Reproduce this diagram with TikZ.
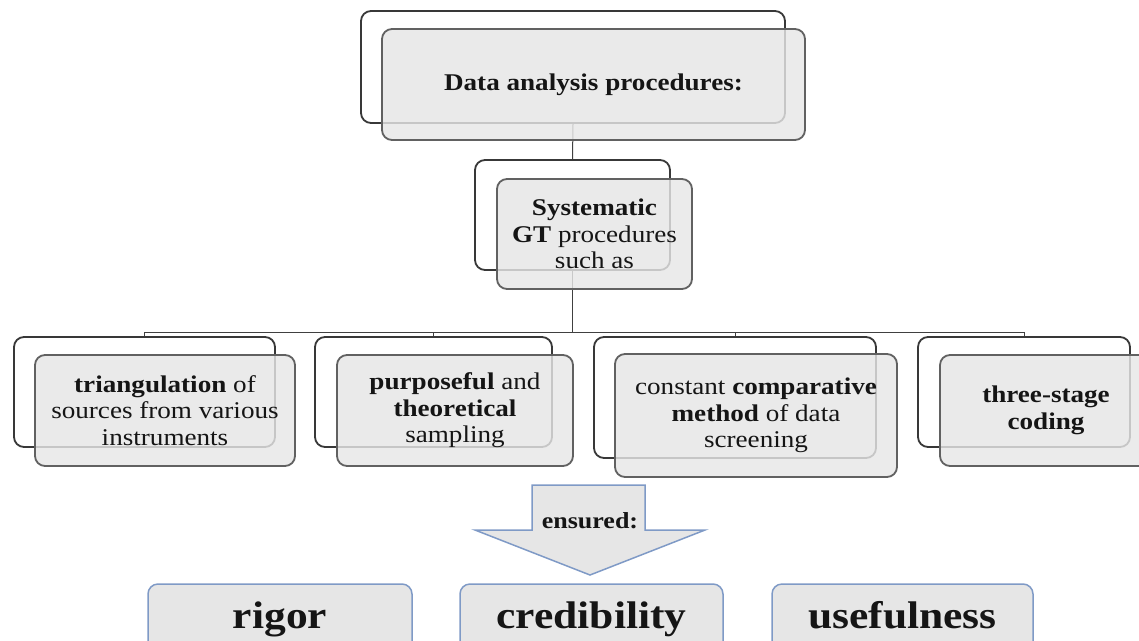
\documentclass[tikz,border=0pt]{standalone}
\usepackage{fontspec}
\setmainfont{Liberation Serif}[FakeStretch=1.13]
\definecolor{boxgray}{HTML}{E6E6E6}
\definecolor{textblack}{HTML}{151515}
\definecolor{bluegray}{HTML}{7F9AC6}
\begin{document}
\begin{tikzpicture}[x=1pt,y=-1pt,
  backbox/.style={draw=black!78, line width=1.8pt, rounded corners=10pt, fill=white, inner sep=0pt},
  frontbox/.style={draw=black!62, line width=1.8pt, rounded corners=10pt, fill=boxgray, fill opacity=0.82, text opacity=1, inner sep=0pt, align=center, text=textblack, font=\fontsize{24}{26.5}\selectfont},
  link/.style={draw=black!75, line width=1pt},
  botbox/.style={draw=bluegray, line width=1.5pt, rounded corners=10pt, fill=boxgray, inner sep=0pt, minimum height=70pt, text height=30pt, text depth=12pt, text=textblack, font=\fontsize{38.5}{40}\selectfont\bfseries},
  arrowshape/.style={draw=bluegray, line width=1.5pt, fill=boxgray, line join=miter}
]
\useasboundingbox (0,0) rectangle (1139,640);
% back boxes
\node[backbox, minimum width=424pt, minimum height=112pt] (b0) at (573,67) {};
\node[backbox, minimum width=195pt, minimum height=110pt] (b1) at (572.5,215) {};
\node[backbox, minimum width=261pt, minimum height=110pt] (b2) at (144.5,392) {};
\node[backbox, minimum width=237pt, minimum height=110pt] (b3) at (433.5,392) {};
\node[backbox, minimum width=282pt, minimum height=121pt] (b4) at (735,397.5) {};
\node[backbox, minimum width=212pt, minimum height=110pt] (b5) at (1024,392) {};
% connectors
\coordinate (hub) at (572.5,332);
\draw[link] (b0.south) -- (b1.north);
\draw[link] (b1.south) -- (hub);
\draw[link] (b2.north) -- (b2.north |- hub) -- (b5.north |- hub) -- (b5.north);
\draw[link] (b3.north) -- (b3.north |- hub);
\draw[link] (b4.north) -- (b4.north |- hub);
% front boxes
\node[frontbox, minimum width=423pt, minimum height=111pt] (f0) at (593.5,84.5) {\textbf{Data analysis procedures:}};
\node[frontbox, minimum width=195pt, minimum height=110pt] (f1) at (594.5,234) {\textbf{Systematic}\\\textbf{GT} procedures\\such as};
\node[frontbox, minimum width=260pt, minimum height=111pt] (f2) at (165,410.5) {\textbf{triangulation} of\\sources from various\\instruments};
\node[frontbox, minimum width=236pt, minimum height=111pt] (f3) at (455,410.5) {\textbf{purposeful} and\\\textbf{theoretical}\\sampling};
\node[frontbox, minimum width=282pt, minimum height=123pt] (f4) at (756,415.5) {constant \textbf{comparative}\\\textbf{method} of data\\screening};
\node[frontbox, minimum width=212pt, minimum height=111pt] (f5) at (1046,410.5) {\textbf{three-stage}\\\textbf{coding}};
% arrow
\draw[arrowshape] (532,485) -- (645,485) -- (645,530) -- (705,530) -- (590,575) -- (475,530) -- (532,530) -- cycle;
\node[text=textblack, font=\fontsize{23}{25}\selectfont\bfseries] (ens) at (590,521) {ensured:};
% bottom boxes
\node[botbox, minimum width=264pt] (r1) at (280,619) {rigor};
\node[botbox, minimum width=263pt] (r2) at (591.5,619) {credibility};
\node[botbox, minimum width=261pt] (r3) at (902.5,619) {usefulness};
\end{tikzpicture}
\end{document}
